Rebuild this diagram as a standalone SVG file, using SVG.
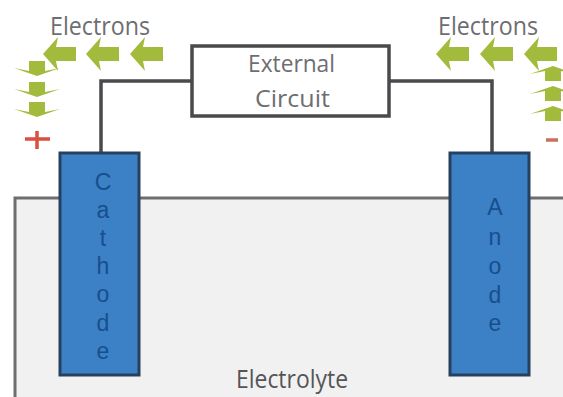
<svg xmlns="http://www.w3.org/2000/svg" width="563" height="397" viewBox="0 0 563 397">
<defs>
<style>
text{font-family:"Open Sans","Noto Sans","Liberation Sans",sans-serif;fill:#6e6e72}
text.e{font-family:"Liberation Sans",Arial,sans-serif;fill:#174f8c;font-size:23px;text-anchor:middle}
.el{fill:#3c80c6;stroke:#27405e;stroke-width:3}
.wire{fill:none;stroke:#4a4a4c;stroke-width:3.5}
.a{fill:#a3bb3c}
</style>
<path id="l" d="M0 0L15 -17L13 -7H33V7H13L15 17Z" class="a"/>
<path id="d" d="M0 0L-23 -8L-8 -5V-15H8V-5L23 -8Z" class="a"/>
</defs>
<rect width="563" height="397" fill="#fff"/>
<g id="electrolyte"><path d="M15 397V198H563V397Z" fill="#f1f1f1"/><path d="M15 397V198H563" fill="none" stroke="#6e6e70" stroke-width="3"/><text x="236" y="388" font-size="25" textLength="112" lengthAdjust="spacingAndGlyphs" style="fill:#555558">Electrolyte</text></g>
<g id="connectors"><path class="wire" d="M101 154V81H192"/><path class="wire" d="M389 81H492V154"/></g>
<g id="circuit"><rect x="192" y="46" width="197" height="70" fill="#fff" stroke="#4a4a4c" stroke-width="3.5"/><text x="248" y="72" font-size="24" textLength="87" lengthAdjust="spacingAndGlyphs">External</text><text x="255" y="107" font-size="24" textLength="75" lengthAdjust="spacingAndGlyphs">Circuit</text></g>
<g id="cathode"><rect class="el" x="60" y="153" width="79" height="222"/><text class="e" x="103" y="190">C</text><text class="e" x="103" y="218">a</text><text class="e" x="103" y="246">t</text><text class="e" x="103" y="274">h</text><text class="e" x="103" y="302">o</text><text class="e" x="103" y="331">d</text><text class="e" x="103" y="359">e</text></g>
<g id="anode"><rect class="el" x="450" y="153" width="79" height="222"/><text class="e" x="495" y="215">A</text><text class="e" x="495" y="245">n</text><text class="e" x="495" y="274">o</text><text class="e" x="495" y="303">d</text><text class="e" x="495" y="331">e</text></g>
<g id="electrons-left"><text x="50" y="35" font-size="26" textLength="100" lengthAdjust="spacingAndGlyphs">Electrons</text><use href="#l" x="43" y="54"/><use href="#l" x="86" y="54"/><use href="#l" x="130" y="54"/><use href="#d" x="37" y="76"/><use href="#d" x="37" y="97"/><use href="#d" x="37" y="117"/></g>
<g id="electrons-right"><text x="438" y="35" font-size="26" textLength="100" lengthAdjust="spacingAndGlyphs">Electrons</text><use href="#l" x="436" y="54"/><use href="#l" x="480" y="54"/><use href="#l" x="524" y="54"/><use href="#d" transform="translate(553 66) rotate(180)"/><use href="#d" transform="translate(553 86) rotate(180)"/><use href="#d" transform="translate(553 106) rotate(180)"/></g>
<g id="signs"><path d="M25 139H50M37 131V149" stroke="#d8503f" stroke-width="3.5" fill="none"/><path d="M546 140H558" stroke="#c8705c" stroke-width="3.5"/></g>
</svg>
